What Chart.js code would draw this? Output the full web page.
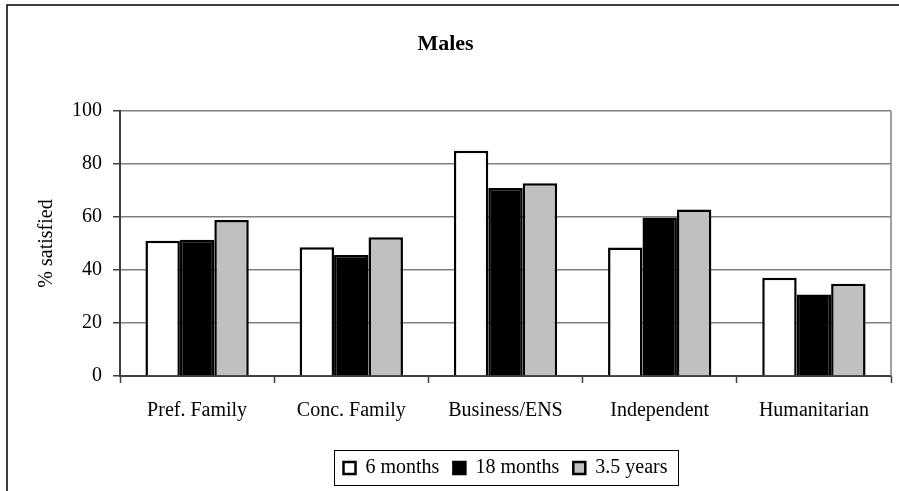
<!DOCTYPE html>
<html><head><meta charset="utf-8">
<script src="https://cdn.jsdelivr.net/npm/chart.js@4.4.0/dist/chart.umd.min.js"></script>
<style>html,body{margin:0;padding:0;background:#fff}</style>
</head><body>
<canvas id="c" width="899" height="491" style="display:block;width:899px;height:491px"></canvas>
<script>
const categories = ['Pref. Family', 'Conc. Family', 'Business/ENS', 'Independent', 'Humanitarian'];
const seriesNames = ['6 months', '18 months', '3.5 years'];
const sixMonths = [51, 48.6, 85, 48.5, 37.1];
const eighteenMonths = [51.4, 45.7, 70.9, 59.8, 30.8];
const threeHalfYears = [58.9, 52.4, 72.7, 62.8, 34.8];
const yTickValues = [0, 20, 40, 60, 80, 100];

const FONT = "'Liberation Serif','Times New Roman',serif";

const framePlugin = {
  id: 'frame',
  beforeDraw(chart) {
    const ctx = chart.ctx;
    ctx.save();
    ctx.fillStyle = '#fff';
    ctx.fillRect(0, 0, chart.width, chart.height);
    ctx.restore();
  },
  afterDraw(chart) {
    const ctx = chart.ctx;
    const a = chart.chartArea;
    ctx.save();
    ctx.strokeStyle = '#000';
    ctx.lineWidth = 1.5;
    ctx.beginPath();
    ctx.moveTo(7, chart.height);
    ctx.lineTo(7, 5);
    ctx.lineTo(chart.width, 5);
    ctx.stroke();
    ctx.strokeStyle = '#808080';
    ctx.lineWidth = 1.5;
    ctx.beginPath();
    ctx.moveTo(a.right, a.top);
    ctx.lineTo(a.right, a.bottom);
    ctx.stroke();
    const lg = chart.legend;
    if (lg && lg.legendHitBoxes && lg.legendHitBoxes.length) {
      let l = Infinity, r = -Infinity, t = Infinity, b = -Infinity;
      lg.legendHitBoxes.forEach(h => {
        l = Math.min(l, h.left); r = Math.max(r, h.left + h.width);
        t = Math.min(t, h.top); b = Math.max(b, h.top + h.height);
      });
      ctx.strokeStyle = '#000';
      ctx.lineWidth = 1;
      ctx.strokeRect(Math.round(l - 10) + 0.5, Math.round(t - 8) + 0.5, Math.round(r - l + 20), Math.round(b - t + 15));
    }
    ctx.restore();
  }
};

const colors = ['#ffffff', '#000000', '#c0c0c0'];
const seriesData = [sixMonths, eighteenMonths, threeHalfYears];

new Chart(document.getElementById('c'), {
  type: 'bar',
  data: {
    labels: categories,
    datasets: seriesNames.map((name, i) => ({
      label: name,
      data: seriesData[i],
      backgroundColor: colors[i],
      borderColor: '#000',
      borderWidth: 2.5,
      categoryPercentage: 0.67,
      barPercentage: 1.0
    }))
  },
  options: {
    responsive: false,
    animation: false,
    layout: { padding: { left: 0, right: 8, top: 0, bottom: 3 } },
    plugins: {
      title: {
        display: true,
        text: 'Males',
        color: '#000',
        font: { family: FONT, size: 22, weight: 'bold' },
        padding: { top: 31, bottom: 53.6 }
      },
      legend: {
        position: 'bottom',
        fullSize: false,
        labels: {
          color: '#000',
          font: { family: FONT, size: 20 },
          boxWidth: 12,
          boxHeight: 12,
          padding: 14
        }
      },
      tooltip: { enabled: false }
    },
    scales: {
      x: {
        afterFit(scale) { scale.height = 68; },
        grid: {
          offset: true,
          drawOnChartArea: false,
          drawTicks: true,
          tickLength: 7,
          tickColor: '#404040',
          tickWidth: 1.5
        },
        border: { color: '#404040', width: 2 },
        ticks: { color: '#000', font: { family: FONT, size: 20 }, padding: 16 }
      },
      y: {
        min: 0,
        max: 100,
        afterFit(scale) { scale.width = 120; },
        afterBuildTicks(scale) { scale.ticks = yTickValues.map(v => ({ value: v })); },
        grid: {
          color: '#808080',
          lineWidth: 1.5,
          tickLength: 7,
          tickColor: '#404040',
          tickWidth: 1.5
        },
        border: { color: '#404040', width: 2 },
        ticks: { color: '#000', font: { family: FONT, size: 20 }, padding: 11 },
        title: {
          display: true,
          text: '% satisfied',
          color: '#000',
          font: { family: FONT, size: 20 },
          padding: { top: 35, bottom: 0 }
        }
      }
    }
  },
  plugins: [framePlugin]
});
</script>
</body></html>
